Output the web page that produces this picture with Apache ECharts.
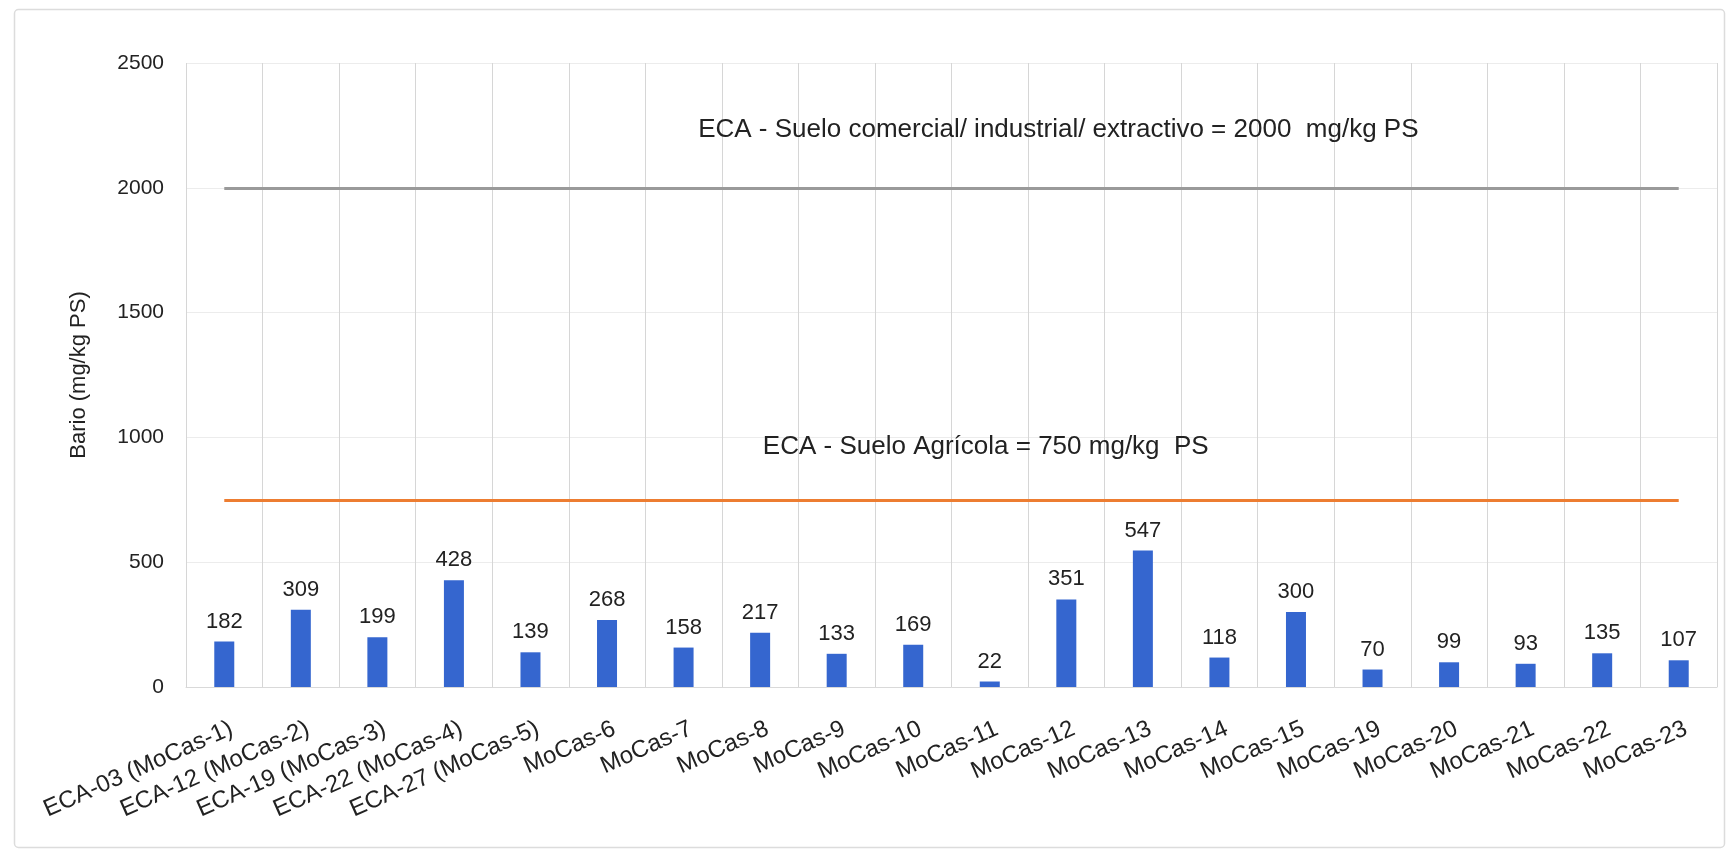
<!DOCTYPE html>
<html>
<head>
<meta charset="utf-8">
<script src="https://cdn.jsdelivr.net/npm/echarts@6/dist/echarts.min.js"></script>
<style>
html,body{margin:0;padding:0;background:#fff;}
#chart{width:1730px;height:857px;}
</style>
</head>
<body>
<div id="chart"></div>
<script>
const categories = ['ECA-03 (MoCas-1)','ECA-12 (MoCas-2)','ECA-19 (MoCas-3)','ECA-22 (MoCas-4)','ECA-27 (MoCas-5)','MoCas-6','MoCas-7','MoCas-8','MoCas-9','MoCas-10','MoCas-11','MoCas-12','MoCas-13','MoCas-14','MoCas-15','MoCas-19','MoCas-20','MoCas-21','MoCas-22','MoCas-23'];
const bario = [182,309,199,428,139,268,158,217,133,169,22,351,547,118,300,70,99,93,135,107];
const yTicks = [0,500,1000,1500,2000,2500];
const limitComercial = 2000;
const limitAgricola = 750;
const labelComercial = 'ECA - Suelo comercial/ industrial/ extractivo = 2000  mg/kg PS';
const labelAgricola = 'ECA - Suelo Agrícola = 750 mg/kg  PS';
const axisName = 'Bario (mg/kg PS)';

const font = 'Liberation Sans, Arial, sans-serif';
const chart = echarts.init(document.getElementById('chart'));
chart.setOption({
  animation: false,
  backgroundColor: '#fff',
  graphic: [{
    type: 'rect', left: 12, top: 7, silent: true,
    shape: { width: 1710, height: 838, r: 4 },
    style: { fill: 'none', stroke: '#dcdcdc', lineWidth: 1.5 }
  }],
  grid: { left: 186, right: 13, top: 63, bottom: 170, containLabel: false },
  xAxis: {
    type: 'category', data: categories, boundaryGap: true,
    axisLine: { show: true, lineStyle: { color: '#d9d9d9' } },
    axisTick: { show: false },
    splitLine: { show: true, lineStyle: { color: '#d6d6d6', width: 1 } },
    axisLabel: { interval: 0, rotate: 24, fontSize: 24, color: '#222', fontFamily: font, margin: 44, padding: [0, -8, 0, 0] }
  },
  yAxis: {
    type: 'value', min: yTicks[0], max: yTicks[yTicks.length-1], interval: 500,
    name: axisName, nameLocation: 'middle', nameGap: 96, nameRotate: 90,
    nameTextStyle: { fontSize: 22, color: '#222', fontFamily: font },
    axisLine: { show: false }, axisTick: { show: false },
    axisLabel: { fontSize: 21, color: '#222', fontFamily: font, margin: 22, formatter: v => String(v) },
    splitLine: { show: true, lineStyle: { color: '#ececec' } }
  },
  series: [{
    type: 'bar', data: bario, barWidth: 20,
    itemStyle: { color: '#3566cf' },
    label: { show: true, position: 'top', distance: 9, fontSize: 22, color: '#222', fontFamily: font },
    markLine: {
      silent: true, symbol: 'none',
      label: { show: false },
      data: [
        [{ coord: [categories[0], limitComercial], lineStyle: { color: '#9a9a9a', width: 3, type: 'solid' } },
         { coord: [categories[categories.length-1], limitComercial] }],
        [{ coord: [categories[0], limitAgricola], lineStyle: { color: '#ed7d31', width: 3, type: 'solid' } },
         { coord: [categories[categories.length-1], limitAgricola] }]
      ]
    },
    markPoint: {
      symbol: 'rect', symbolSize: 0, silent: true,
      label: { show: true, position: 'inside', fontSize: 26, color: '#222', fontFamily: font },
      data: [
        { coord: ['MoCas-12', 2232], value: labelComercial, label: { formatter: labelComercial, offset: [-8, 0] } },
        { coord: ['MoCas-11', 961], value: labelAgricola, label: { formatter: labelAgricola, offset: [-4, 0] } }
      ]
    }
  }]
});
</script>
</body>
</html>
